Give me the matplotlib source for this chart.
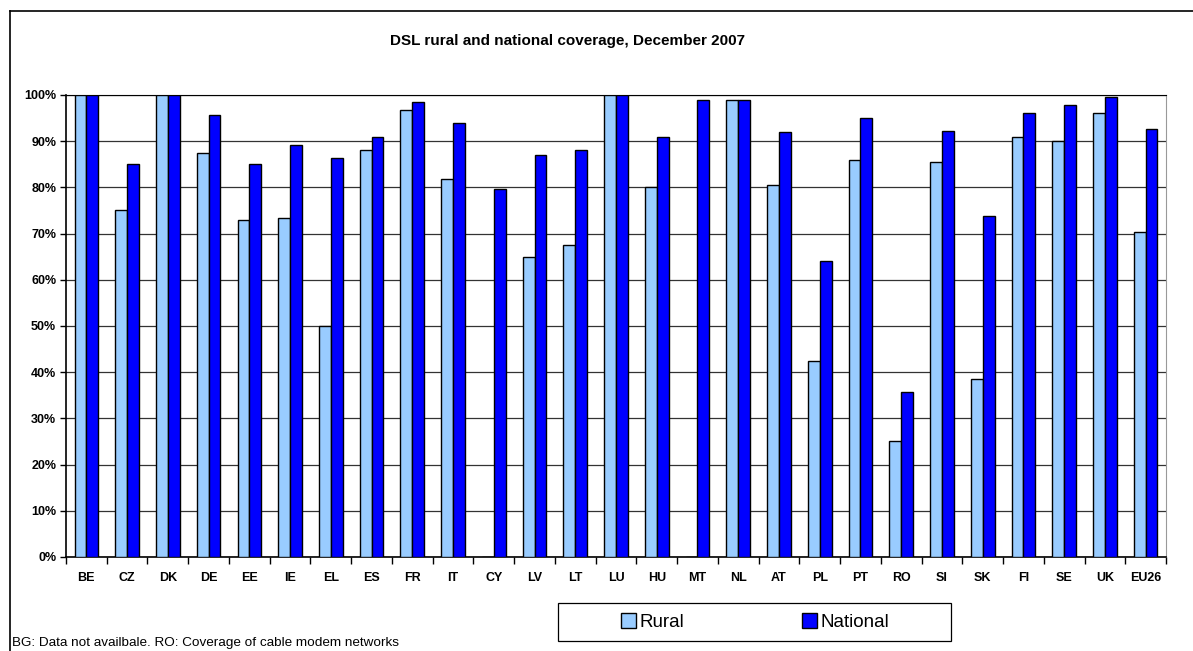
import numpy as np
import matplotlib
matplotlib.use("Agg")
import matplotlib.pyplot as plt
from matplotlib.patches import Rectangle
from matplotlib.ticker import PercentFormatter, FixedLocator, NullFormatter

plt.rcParams['font.family'] = ['Liberation Sans', 'DejaVu Sans']

countries = ["BE", "CZ", "DK", "DE", "EE", "IE", "EL", "ES", "FR", "IT", "CY", "LV", "LT", "LU",
             "HU", "MT", "NL", "AT", "PL", "PT", "RO", "SI", "SK", "FI", "SE", "UK", "EU26"]
rural = [100, 75, 100, 87.5, 73, 73.3, 50, 88, 96.7, 81.8, 0, 65, 67.5, 100,
         80, 0, 99, 80.6, 42.5, 86, 25, 85.5, 38.6, 91, 90, 96, 70.3]
national = [100, 85, 100, 95.7, 85, 89.2, 86.3, 91, 98.5, 94, 79.6, 87, 88, 100,
            91, 99, 99, 92, 64, 95, 35.7, 92.2, 73.9, 96, 97.8, 99.6, 92.6]

fig = plt.figure(figsize=(11.93, 6.51), dpi=100)
ax = fig.add_axes([0.0553, 0.1444, 0.9221, 0.7097])

x = np.arange(len(countries))
w = 0.29
ax.bar(x - w / 2, rural, w, color="#99CCFF", edgecolor="black", linewidth=1.0, label="Rural", zorder=3)
ax.bar(x + w / 2, national, w, color="#0000FF", edgecolor="black", linewidth=1.0, label="National", zorder=3)

ax.set_xlim(-0.5, len(countries) - 0.5)
ax.set_ylim(0, 100)
ax.set_yticks(np.arange(0, 101, 10))
ax.yaxis.set_major_formatter(PercentFormatter(decimals=0))
ax.grid(axis="y", color="#333333", linewidth=0.9, zorder=0)

# category labels in the middle, ticks on the boundaries
ax.set_xticks(x)
ax.set_xticklabels(countries, fontsize=9, fontweight="bold")
ax.tick_params(axis="x", length=0, pad=11)
ax.xaxis.set_minor_locator(FixedLocator(np.arange(-0.5, len(countries), 1)))
ax.xaxis.set_minor_formatter(NullFormatter())
ax.tick_params(axis="x", which="minor", length=5, direction="out", width=1)
ax.tick_params(axis="y", length=4, direction="out", width=1, labelsize=9, pad=3)
for lab in ax.get_yticklabels():
    lab.set_fontweight("bold")

for side in ["left", "bottom"]:
    ax.spines[side].set_color("black")
    ax.spines[side].set_linewidth(1.2)
ax.spines["top"].set_color("black")
ax.spines["right"].set_color("#999999")

fig.text(0.4757, 0.937, "DSL rural and national coverage, December 2007", ha="center", va="center",
         fontsize=11, fontweight="bold")

# legend: frameless entries plus a wide box drawn separately
leg = fig.legend(loc="center", bbox_to_anchor=(0.633, 0.0445), ncol=2, fontsize=13.5,
                 frameon=False, columnspacing=6.3,
                 handlelength=0.8, handleheight=0.8, handletextpad=0.2, borderpad=0.3)
fig.add_artist(Rectangle((0.4677, 0.0154), 0.3295, 0.0583, transform=fig.transFigure,
                         facecolor="none", edgecolor="black", linewidth=0.9))

fig.text(0.010, 0.012, "BG: Data not availbale. RO: Coverage of cable modem networks", fontsize=9.7,
         ha="left", va="center")

# outer chart frame (only left and top edges visible)
fig.add_artist(plt.Line2D([0.0084, 0.0084], [0.0, 0.983], color="black", linewidth=1.2))
fig.add_artist(plt.Line2D([0.0084, 1.0], [0.983, 0.983], color="black", linewidth=1.2))

fig.savefig("out.png", dpi=100)
